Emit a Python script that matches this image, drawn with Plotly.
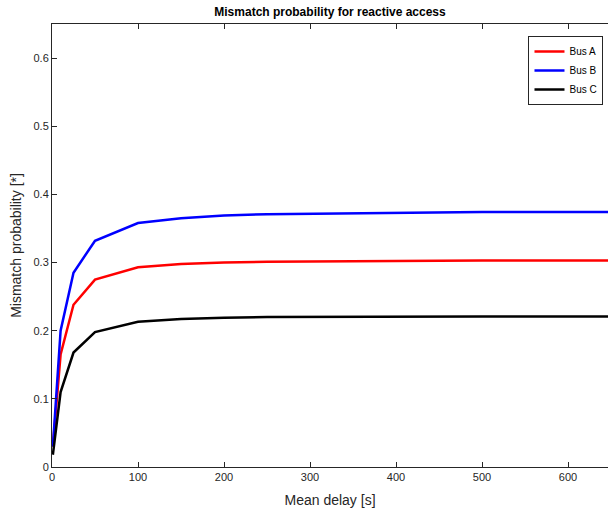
"""Mismatch probability for reactive access, by bus."""

import plotly.graph_objects as go

mean_delay = [1, 10, 25, 50, 100, 150, 200, 250, 500, 750]
bus_a = [0.030, 0.165, 0.238, 0.275, 0.293, 0.298, 0.300, 0.301, 0.303, 0.303]
bus_b = [0.030, 0.200, 0.285, 0.332, 0.358, 0.365, 0.369, 0.371, 0.374, 0.374]
bus_c = [0.018, 0.110, 0.168, 0.198, 0.213, 0.217, 0.219, 0.220, 0.221, 0.221]

series = [("Bus A", bus_a, "#ff0000"), ("Bus B", bus_b, "#0000ff"), ("Bus C", bus_c, "#000000")]

fig = go.Figure()

for name, values, color in series:
    fig.add_trace(
        go.Scatter(
            x=mean_delay,
            y=values,
            mode="lines",
            name=name,
            line={"color": color, "width": 2.5},
        ),
    )

axis_color = "#262626"
font = {"family": "Liberation Sans, Arial, sans-serif", "size": 12, "color": axis_color}

fig.update_layout(
    width=608,
    height=513,
    margin={"l": 52, "r": 0, "t": 24, "b": 46, "autoexpand": False},
    paper_bgcolor="white",
    plot_bgcolor="white",
    font=font,
    title={
        "text": "<b>Mismatch probability for reactive access</b>",
        "x": 0.5,
        "xanchor": "center",
        "xref": "paper",
        "y": 0.977,
        "yanchor": "middle",
        "font": {"size": 12, "color": "#000000"},
    },
    showlegend=True,
    legend={
        "x": 0.857,
        "y": 0.973,
        "xanchor": "left",
        "yanchor": "top",
        "bordercolor": axis_color,
        "borderwidth": 1,
        "bgcolor": "white",
        "font": {"size": 10, "color": "#000000"},
        "tracegroupgap": 0,
        "itemwidth": 30,
    },
)

fig.update_xaxes(
    range=[0, 646.5],
    tickvals=[0, 100, 200, 300, 400, 500, 600],
    ticks="inside",
    ticklen=5,
    tickcolor=axis_color,
    tickfont={"size": 11},
    showline=True,
    linecolor=axis_color,
    linewidth=1,
    mirror="ticks",
    showgrid=False,
    zeroline=False,
    automargin=False,
    title={"text": "Mean delay [s]", "standoff": 12},
)

fig.update_yaxes(
    range=[0, 0.65],
    tickvals=[0, 0.1, 0.2, 0.3, 0.4, 0.5, 0.6],
    ticktext=["0", "0.1", "0.2", "0.3", "0.4", "0.5", "0.6"],
    ticks="inside",
    ticklen=5,
    tickcolor=axis_color,
    tickfont={"size": 11},
    showline=True,
    linecolor=axis_color,
    linewidth=1,
    showgrid=False,
    zeroline=False,
    automargin=False,
    title={"text": "Mismatch probability [*]", "standoff": 8},
)

# drop the browser's default 8px body margin so the figure sits at the page origin
fig.write_html(
    "out.html",
    config={"displayModeBar": False},
    post_script="document.body.style.margin = '0';",
)
